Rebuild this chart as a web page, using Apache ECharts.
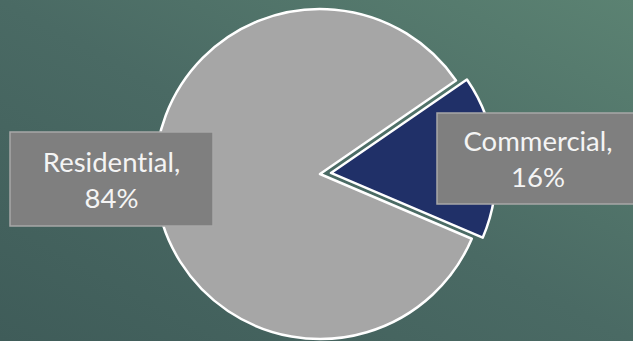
<!DOCTYPE html>
<html>
<head>
<meta charset="utf-8">
<script src="https://cdn.jsdelivr.net/npm/echarts@6/dist/echarts.min.js"></script>
<style>
  html, body { margin: 0; padding: 0; }
  #chart { width: 633px; height: 341px; }
  #chart text, #chart tspan { font-variant-ligatures: none !important; font-feature-settings: "liga" 0, "clig" 0 !important; }
</style>
</head>
<body>
<div id="chart"></div>
<script>
// Electricity use by sector
const categories = ['Commercial', 'Residential'];
const shares = [16, 84];
const sliceColors = ['#203068', '#a6a6a6'];

const chart = echarts.init(document.getElementById('chart'), null, { renderer: 'svg' });

// callout boxes: [left, top, width, height] per category
const calloutBoxes = {
  Commercial: [437, 113, 202, 91],
  Residential: [10, 132, 203, 94]
};

const total = shares.reduce((a, b) => a + b, 0);

// data callouts: grey box with "name,\npercent", drawn above the pie
const callouts = [];
categories.forEach((name, i) => {
  const b = calloutBoxes[name];
  const pct = Math.round(shares[i] / total * 100);
  callouts.push({
    type: 'rect',
    z: 100,
    shape: { x: b[0], y: b[1], width: b[2], height: b[3] },
    style: { fill: '#7f7f7f', stroke: '#a8a8a8', lineWidth: 1.5 }
  });
  callouts.push({
    type: 'text',
    z: 101,
    x: b[0] + b[2] / 2,
    y: b[1] + b[3] / 2,
    style: {
      text: name + ',\n' + pct + '%',
      fill: '#f4f4f4',
      font: '27.5px Lato',
      lineHeight: 36,
      align: 'center',
      verticalAlign: 'middle'
    }
  });
});

chart.setOption({
  backgroundColor: {
    type: 'linear', x: 0, y: 1, x2: 1, y2: 0,
    colorStops: [
      { offset: 0, color: '#3f5c59' },
      { offset: 0.5, color: '#4a6a64' },
      { offset: 1, color: '#5b8272' }
    ]
  },
  animation: false,
  graphic: callouts,
  series: [{
    type: 'pie',
    z: 2,
    center: [320, 174],
    radius: 165,
    startAngle: 34.5,
    clockwise: true,
    selectedMode: 'single',
    selectedOffset: 11,
    itemStyle: { borderColor: '#ffffff', borderWidth: 2.5 },
    emphasis: { disabled: true },
    label: { show: false },
    labelLine: { show: false },
    data: categories.map((name, i) => ({
      name: name,
      value: shares[i],
      selected: name === 'Commercial',
      itemStyle: { color: sliceColors[i] }
    }))
  }]
});
</script>
</body>
</html>
